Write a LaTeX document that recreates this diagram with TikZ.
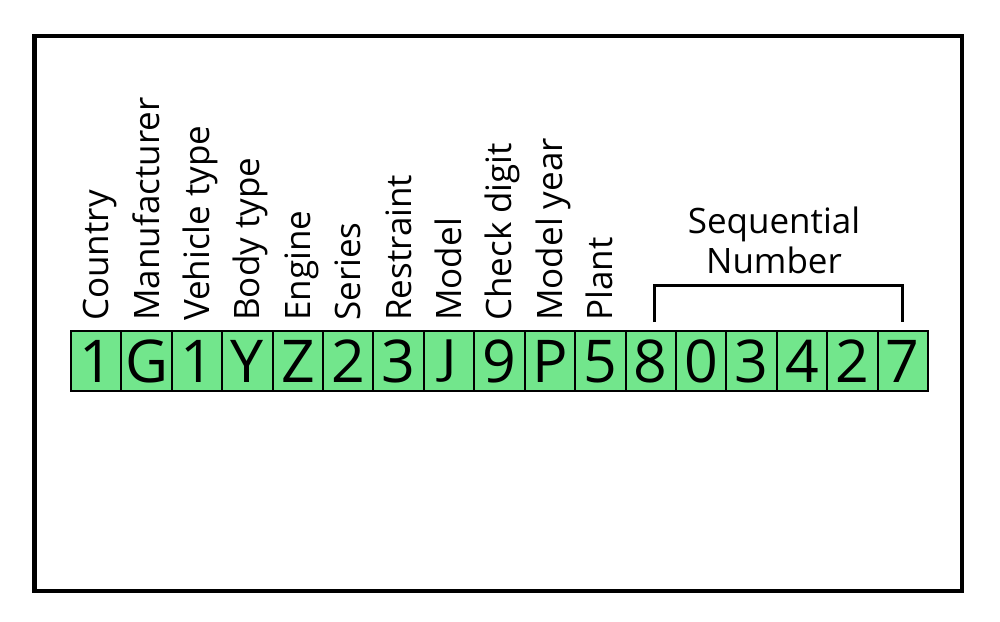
\documentclass[tikz,border=0pt]{standalone}
\usepackage{fontspec}
\setmainfont{Open Sans}
\definecolor{vin}{HTML}{72E68C}
\tikzset{
  frame/.style={draw=black, line width=4.5pt},
  cell/.style={draw=black, fill=vin, line width=2pt, minimum width=50.41pt,
    minimum height=60pt, inner sep=0pt, text height=42.5pt, text depth=0pt,
    font=\fontsize{59}{60}\selectfont},
  lab/.style={rotate=90, anchor=base west, inner sep=0pt,
    font=\fontsize{35}{40}\selectfont},
  brack/.style={draw=black, line width=3pt},
  seqlab/.style={align=center, inner sep=0pt, font=\fontsize{35}{40}\selectfont}
}
\newcommand{\flatJ}{\raisebox{\depth}{\scalebox{1}[0.8]{J}}}
\begin{document}
\begin{tikzpicture}[x=1pt,y=-1pt]
\useasboundingbox (0,0) rectangle (1000,621);
\draw[frame] (34.5,36) rectangle (962,591);
\foreach \c [count=\i] in {1,G,1,Y,Z,2,3,\flatJ,9,P,5,8,0,3,4,2,7}
  \node[cell] (c\i) at (71+50.41*\i-25.2,361) {\c};
\foreach \t [count=\i] in {Country,Manufacturer,Vehicle type,Body type,Engine,Series,Restraint,Model,Check digit,Model year,Plant}
  \node[lab] (l\i) at ([xshift=12.5pt, yshift=9pt]c\i.north) {\t};
\coordinate (bl) at ([xshift=3.5pt, yshift=8pt]c12.north);
\coordinate (br) at ([yshift=8pt]c17.north);
\draw[brack] (bl) -- ++(0,-36.5) -| (br);
\node[seqlab] (seq) at (774,240) {Sequential\\Number};
\end{tikzpicture}
\end{document}
